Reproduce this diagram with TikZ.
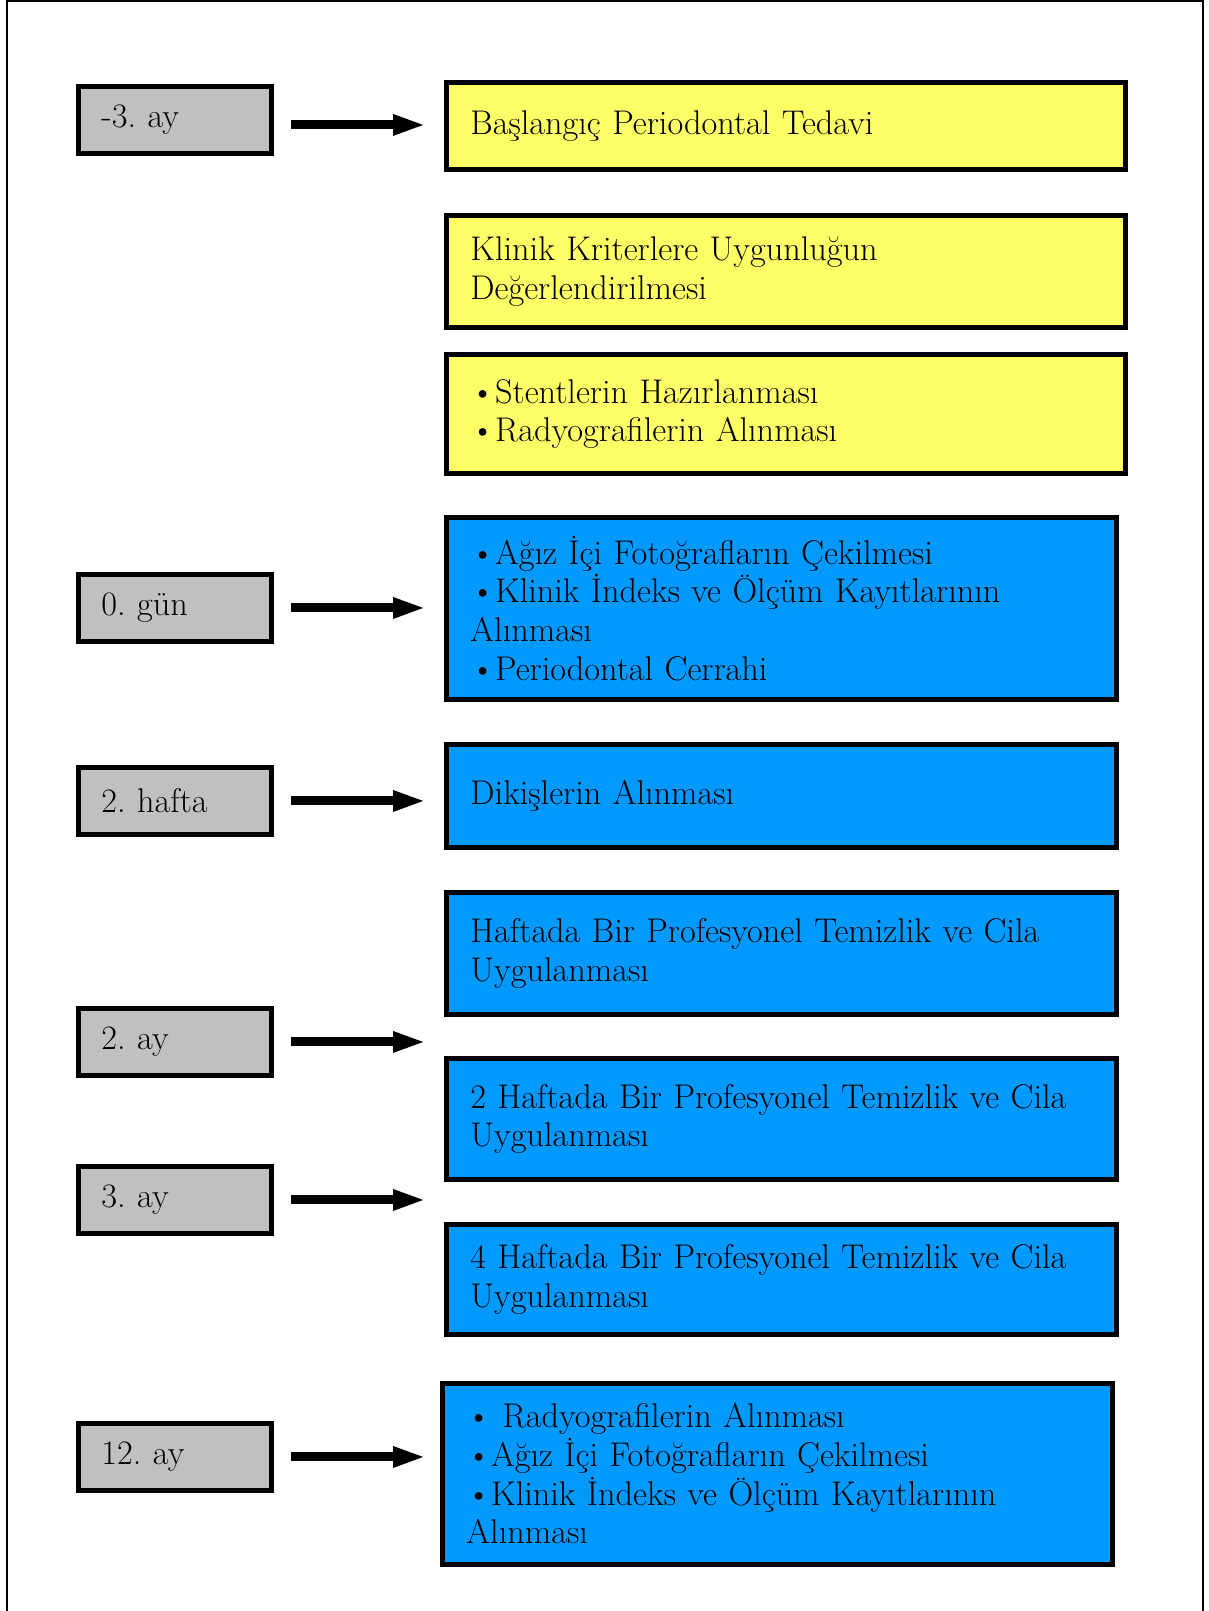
\documentclass[tikz,border=0pt]{standalone}
\usetikzlibrary{arrows.meta}
\definecolor{grayfill}{HTML}{C0C0C0}
\definecolor{yellowfill}{HTML}{FFFF66}
\definecolor{bluefill}{HTML}{0099FF}
\frenchspacing

\begin{document}
\begin{tikzpicture}[
  x=0.02cm, y=-0.02cm,
  font=\fontsize{19.5}{22}\selectfont,
  timebox/.style={draw, line width=2.8pt, fill=grayfill, anchor=north west,
    text width=2.94cm, inner xsep=0.46cm, minimum height=1.34cm, align=left},
  yellowbox/.style={draw, line width=2.8pt, fill=yellowfill, anchor=north west,
    text width=12.62cm, inner xsep=0.48cm, align=left},
  bluebox/.style={draw, line width=2.8pt, fill=bluefill, anchor=north west,
    text width=12.44cm, inner xsep=0.48cm, align=left},
  bigarrow/.style={line width=0.18cm, -{Triangle[length=0.66cm, width=0.38cm]},
    shorten <=0.34cm, shorten >=0.36cm},
]
  \useasboundingbox (0,0) rectangle (1208,1611);
  \fill[white] (0,0) rectangle (1208,1611);
  % dis cerceve (alt kenar sayfanin disinda)
  \draw[line width=1.1pt] (7,1650) -- (7,1) -- (1203,1) -- (1203,1650);

  % zaman kutulari
  \node[timebox] (tMinus3)  at (76,84)   {-3. ay};
  \node[timebox] (tDay0)    at (76,572)  {0. g\"un};
  \node[timebox] (tWeek2)   at (76,765)  {2. hafta};
  \node[timebox] (tMonth2)  at (76,1006) {2. ay};
  \node[timebox] (tMonth3)  at (76,1164) {3. ay};
  \node[timebox] (tMonth12) at (76,1421) {12. ay};

  % sari kutular
  \node[yellowbox, minimum height=1.74cm] (eTedavi) at (444,80)
    {Başlangıç Periodontal Tedavi};
  \node[yellowbox, minimum height=2.24cm] (eKriter) at (444,213)
    {Klinik Kriterlere Uygunluğun\\Değerlendirilmesi};
  \node[yellowbox, minimum height=2.38cm] (eStent) at (444,352)
    {\textbullet Stentlerin Hazırlanması\\\textbullet Radyografilerin Alınması};

  % mavi kutular
  \node[bluebox, minimum height=3.64cm] (eCerrahi) at (444,515)
    {\textbullet Ağız İçi Fotoğrafların Çekilmesi\\
     \textbullet Klinik İndeks ve Ölçüm Kayıtlarının\\
     Alınması\\
     \textbullet Periodontal Cerrahi};
  \node[bluebox, minimum height=2.06cm] (eDikis) at (444,742)
    {Dikişlerin Alınması};
  \node[bluebox, minimum height=2.44cm] (eTemizlik1) at (444,890)
    {Haftada Bir Profesyonel Temizlik ve Cila\\Uygulanması};
  \node[bluebox, minimum height=2.42cm] (eTemizlik2) at (444,1056)
    {2 Haftada Bir Profesyonel Temizlik ve Cila\\Uygulanması};
  \node[bluebox, minimum height=2.2cm] (eTemizlik4) at (444,1222)
    {4 Haftada Bir Profesyonel Temizlik ve Cila\\Uygulanması};
  \node[bluebox, minimum height=3.62cm] (eKontrol) at (440,1381)
    {\textbullet\ Radyografilerin Alınması\\
     \textbullet Ağız İçi Fotoğrafların Çekilmesi\\
     \textbullet Klinik İndeks ve Ölçüm Kayıtlarının\\
     Alınması};

  % oklar
  \draw[bigarrow] ([yshift=-0.1cm]tMinus3.east) -- ([yshift=-0.1cm]tMinus3.east -| eTedavi.west);
  \draw[bigarrow] (tDay0.east)    -- (tDay0.east -| eCerrahi.west);
  \draw[bigarrow] (tWeek2.east)   -- (tWeek2.east -| eDikis.west);
  \draw[bigarrow] (tMonth2.east)  -- (tMonth2.east -| eTemizlik2.west);
  \draw[bigarrow] (tMonth3.east)  -- (tMonth3.east -| eTemizlik2.west);
  \draw[bigarrow] (tMonth12.east) -- (tMonth12.east -| eTedavi.west);
\end{tikzpicture}
\end{document}
